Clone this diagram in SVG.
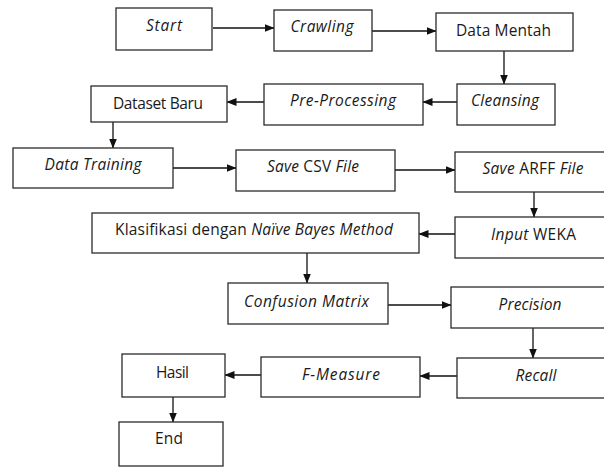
<svg xmlns="http://www.w3.org/2000/svg" width="604" height="468" viewBox="0 0 604 468">
  <style>
    .box { fill: #ffffff; stroke: #2b2b2b; stroke-width: 1.3; }
    .lbl { font-family: "Open Sans", "Liberation Sans", sans-serif; font-size: 15.5px; fill: #1a1a1a; text-anchor: middle; }
    .it { font-style: italic; }
    .edge { fill: none; stroke: #111111; stroke-width: 1.3; }
  </style>
  <defs>
    <marker id="arrow" markerUnits="userSpaceOnUse" markerWidth="10" markerHeight="10" viewBox="0 0 10 10" refX="9.5" refY="5" orient="auto">
      <path d="M0,1 L10,5 L0,9 Z" fill="#111111"/>
    </marker>
  </defs>
  <rect width="604" height="468" fill="#ffffff"/>

  <g id="connectors">
    <line class="edge" x1="213" y1="28" x2="274" y2="28" marker-end="url(#arrow)"/>
    <line class="edge" x1="372" y1="31" x2="436" y2="31" marker-end="url(#arrow)"/>
    <line class="edge" x1="504" y1="51" x2="504" y2="84" marker-end="url(#arrow)"/>
    <line class="edge" x1="457" y1="102" x2="423" y2="102" marker-end="url(#arrow)"/>
    <line class="edge" x1="264" y1="102" x2="227" y2="102" marker-end="url(#arrow)"/>
    <line class="edge" x1="113" y1="122" x2="113" y2="148" marker-end="url(#arrow)"/>
    <line class="edge" x1="173" y1="168" x2="236" y2="168" marker-end="url(#arrow)"/>
    <line class="edge" x1="395" y1="170" x2="455" y2="170" marker-end="url(#arrow)"/>
    <line class="edge" x1="534" y1="192" x2="534" y2="217" marker-end="url(#arrow)"/>
    <line class="edge" x1="455" y1="234" x2="419" y2="234" marker-end="url(#arrow)"/>
    <line class="edge" x1="307" y1="253" x2="307" y2="283" marker-end="url(#arrow)"/>
    <line class="edge" x1="388" y1="305" x2="451" y2="305" marker-end="url(#arrow)"/>
    <line class="edge" x1="533" y1="328" x2="533" y2="358" marker-end="url(#arrow)"/>
    <line class="edge" x1="457" y1="376" x2="420" y2="376" marker-end="url(#arrow)"/>
    <line class="edge" x1="261" y1="375" x2="225" y2="375" marker-end="url(#arrow)"/>
    <line class="edge" x1="173" y1="397" x2="173" y2="422" marker-end="url(#arrow)"/>
  </g>

  <g id="start">
    <rect class="box" x="116" y="8" width="96" height="42"/>
    <text class="lbl it" x="164" y="31" textLength="36">Start</text>
  </g>
  <g id="crawling">
    <rect class="box" x="274" y="10" width="98" height="41"/>
    <text class="lbl it" x="322" y="32" textLength="63">Crawling</text>
  </g>
  <g id="data-mentah">
    <rect class="box" x="436" y="13" width="137" height="38"/>
    <text class="lbl" x="503.5" y="36" textLength="95">Data Mentah</text>
  </g>
  <g id="cleansing">
    <rect class="box" x="457" y="84" width="98" height="41"/>
    <text class="lbl it" x="505" y="106" textLength="68">Cleansing</text>
  </g>
  <g id="pre-processing">
    <rect class="box" x="264" y="84" width="159" height="41"/>
    <text class="lbl it" x="343" y="106" textLength="106">Pre-Processing</text>
  </g>
  <g id="dataset-baru">
    <rect class="box" x="91" y="86" width="136" height="36"/>
    <text class="lbl" x="158" y="109" textLength="90">Dataset Baru</text>
  </g>
  <g id="data-training">
    <rect class="box" x="13" y="148" width="160" height="40"/>
    <text class="lbl it" x="93" y="170" textLength="97">Data Training</text>
  </g>
  <g id="save-csv">
    <rect class="box" x="236" y="150" width="159" height="41"/>
    <text class="lbl" x="313" y="172" textLength="92"><tspan class="it">Save</tspan> CSV <tspan class="it">File</tspan></text>
  </g>
  <g id="save-arff">
    <rect class="box" x="455" y="152" width="155" height="40"/>
    <text class="lbl" x="533" y="174" textLength="101"><tspan class="it">Save</tspan> ARFF <tspan class="it">File</tspan></text>
  </g>
  <g id="input-weka">
    <rect class="box" x="455" y="217" width="155" height="41"/>
    <text class="lbl" x="533.5" y="240" textLength="85"><tspan class="it">Input</tspan> WEKA</text>
  </g>
  <g id="klasifikasi">
    <rect class="box" x="92" y="213" width="327" height="40"/>
    <text class="lbl" x="254" y="235" textLength="278">Klasifikasi dengan <tspan class="it">Naïve Bayes Method</tspan></text>
  </g>
  <g id="confusion-matrix">
    <rect class="box" x="228" y="283" width="160" height="41"/>
    <text class="lbl it" x="306.5" y="307" textLength="125">Confusion Matrix</text>
  </g>
  <g id="precision">
    <rect class="box" x="451" y="287" width="159" height="41"/>
    <text class="lbl it" x="530" y="310" textLength="63">Precision</text>
  </g>
  <g id="recall">
    <rect class="box" x="457" y="358" width="153" height="40"/>
    <text class="lbl it" x="536" y="381" textLength="41">Recall</text>
  </g>
  <g id="f-measure">
    <rect class="box" x="261" y="357" width="159" height="40"/>
    <text class="lbl it" x="341" y="380" textLength="78">F-Measure</text>
  </g>
  <g id="hasil">
    <rect class="box" x="122" y="354" width="103" height="43"/>
    <text class="lbl" x="172.5" y="378" textLength="33">Hasil</text>
  </g>
  <g id="end">
    <rect class="box" x="119" y="422" width="104" height="44"/>
    <text class="lbl" x="169" y="444" textLength="28">End</text>
  </g>
</svg>
